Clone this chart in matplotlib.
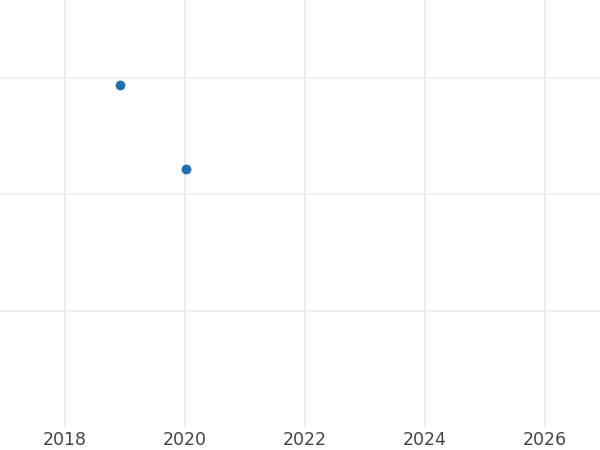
import pandas as pd
import matplotlib
matplotlib.use('Agg')
import matplotlib.pyplot as plt
import matplotlib.dates as mdates

# data
dates = pd.to_datetime(['2018-12-01', '2020-01-07'])
values = [29.4, 22.2]

fig = plt.figure(figsize=(6, 4.5), dpi=100)
ax = fig.add_axes([0, 23 / 450, 1, 427 / 450])

ax.scatter(dates, values, s=50, color='#1f72b0', zorder=3, linewidths=0)

ax.set_xlim(pd.Timestamp('2016-12-01'), pd.Timestamp('2026-12-01'))
ax.set_ylim(0, 36.7)
ax.xaxis.set_major_locator(mdates.YearLocator(2))
ax.xaxis.set_major_formatter(mdates.DateFormatter('%Y'))
ax.set_yticks([10, 20, 30])
ax.set_yticklabels([])

ax.grid(True, axis='x', color='#e8e8e8', linewidth=1.3)
ax.grid(True, axis='y', color='#ececec', linewidth=1.2)
ax.set_axisbelow(True)
for s in ax.spines.values():
    s.set_visible(False)
ax.tick_params(length=0, labelsize=12.5, labelcolor='#444444', pad=3)

fig.savefig('out.png', dpi=100)
